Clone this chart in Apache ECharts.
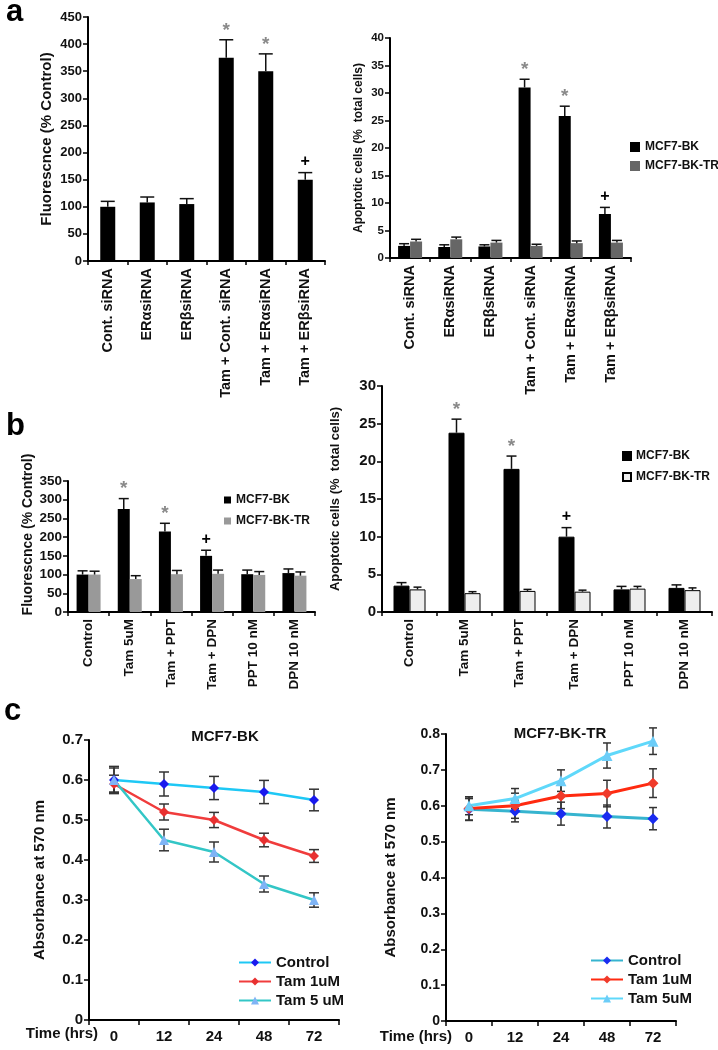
<!DOCTYPE html>
<html>
<head>
<meta charset="UTF-8">
<title>ER siRNA / Tam figure</title>
<style>
  body { margin: 0; background: #fff; }
  .panel { position: absolute; left: 0; top: 0; width: 718px; height: 1050px; }
</style>
</head>
<body>
<div id="a1" class="panel"></div>
<div id="a2" class="panel"></div>
<div id="b1" class="panel"></div>
<div id="b2" class="panel"></div>
<div id="c1" class="panel"></div>
<div id="c2" class="panel"></div>
<script src="https://cdn.jsdelivr.net/npm/echarts@6/dist/echarts.min.js"></script>
<script>
// ---- data ----
var catsA = ['Cont. siRNA', 'ERαsiRNA', 'ERβsiRNA', 'Tam + Cont. siRNA', 'Tam + ERαsiRNA', 'Tam + ERβsiRNA'];
var fluorA = [100, 108, 105, 375, 350, 150];
var fluorATop = [110, 118, 115, 408, 382, 163];   // top of error bar
var sigA = ['', '', '', '*', '*', '+'];

var apopA_BK = [2.2, 2.0, 2.1, 31, 25.8, 8];
var apopA_BKTop = [2.6, 2.4, 2.4, 32.5, 27.6, 9.2];
var apopA_TR = [3.0, 3.4, 2.8, 2.2, 2.7, 2.8];
var apopA_TRTop = [3.4, 3.8, 3.2, 2.5, 3.1, 3.2];

var catsB = ['Control', 'Tam 5uM', 'Tam + PPT', 'Tam + DPN', 'PPT 10 nM', 'DPN 10 nM'];
var sigB = ['', '*', '*', '+', '', ''];
var fluorB_BK = [100, 275, 215, 150, 101, 104];
var fluorB_BKTop = [110, 303, 237, 165, 112, 115];
var fluorB_TR = [100, 88, 101, 102, 99, 97];
var fluorB_TRTop = [109, 97, 111, 112, 108, 107];

var apopB_BK = [3.5, 23.8, 19, 10, 3.0, 3.2];
var apopB_BKTop = [3.9, 25.6, 20.7, 11.2, 3.4, 3.6];
var apopB_TR = [3.0, 2.5, 2.8, 2.7, 3.1, 2.9];
var apopB_TRTop = [3.3, 2.7, 3.0, 2.9, 3.4, 3.2];

var hours = ['0', '12', '24', '48', '72'];
// MCF7-BK
var bkControl = [0.60, 0.59, 0.58, 0.57, 0.55];
var bkControlErr = [0.034, 0.03, 0.029, 0.029, 0.027];
var bkTam1 = [0.59, 0.52, 0.50, 0.45, 0.41];
var bkTam1Err = [0.022, 0.02, 0.019, 0.017, 0.016];
var bkTam5 = [0.60, 0.45, 0.42, 0.34, 0.30];
var bkTam5Err = [0.03, 0.027, 0.025, 0.02, 0.018];
// MCF7-BK-TR
var trControl = [0.59, 0.585, 0.578, 0.57, 0.564];
var trControlErr = [0.03, 0.03, 0.032, 0.032, 0.031];
var trTam1 = [0.592, 0.60, 0.627, 0.634, 0.663];
var trTam1Err = [0.033, 0.035, 0.035, 0.037, 0.04];
var trTam5 = [0.60, 0.62, 0.67, 0.74, 0.78];
var trTam5Err = [0.025, 0.028, 0.03, 0.035, 0.037];

var FONT = '"Liberation Sans", Arial, Helvetica, sans-serif';

function catAxis(cats, fs, rotate) {
  return {
    type: 'category', data: cats,
    axisLine: { lineStyle: { color: '#000', width: 2 } },
    axisTick: { show: true, length: 4, lineStyle: { color: '#000', width: 1.5 } },
    axisLabel: { rotate: rotate, interval: 0, margin: 7, color: '#111', fontSize: fs, fontWeight: 'bold', fontFamily: FONT }
  };
}

// shift moves the rotated axis title up along the axis (px)
function valAxis(max, interval, fs, name, nameFs, gap, dec, shift) {
  return {
    type: 'value', min: 0, max: max, interval: interval,
    name: name, nameLocation: 'middle', nameGap: gap,
    nameTextStyle: { color: '#111', fontSize: nameFs, fontWeight: 'bold', fontFamily: FONT,
      padding: shift ? [0, 0, 0, shift * 2] : 0 },
    splitLine: { show: false },
    axisLine: { show: true, lineStyle: { color: '#000', width: 2 } },
    axisTick: { show: true, length: 5, lineStyle: { color: '#000', width: 1.5 } },
    axisLabel: {
      color: '#111', fontSize: fs, fontWeight: 'bold', fontFamily: FONT, margin: 6,
      formatter: function (v) { return dec ? (v === 0 ? '0' : v.toFixed(dec)) : String(v); }
    }
  };
}

// upper error whisker on a bar, plus significance mark above it
function barErr(vals, tops, offset, cap, marks, markSize) {
  return {
    type: 'custom', z: 5,
    data: vals.map(function (v, i) { return [i, v, tops[i]]; }),
    renderItem: function (params, api) {
      var i = api.value(0);
      var p0 = api.coord([i, api.value(1)]);
      var p1 = api.coord([i, api.value(2)]);
      var x = p0[0] + offset;
      var kids = [
        { type: 'line', shape: { x1: x, y1: p0[1], x2: x, y2: p1[1] }, style: { stroke: '#111', lineWidth: 1.5 } },
        { type: 'line', shape: { x1: x - cap, y1: p1[1], x2: x + cap, y2: p1[1] }, style: { stroke: '#111', lineWidth: 1.5 } }
      ];
      var m = marks ? marks[params.dataIndex] : '';
      if (m) {
        kids.push({
          type: 'text',
          style: {
            text: m, x: x, y: p1[1] - (m === '*' ? 0 : 3), align: 'center', verticalAlign: 'bottom',
            fill: m === '*' ? '#8a8a8a' : '#000',
            font: 'bold ' + (m === '*' ? markSize + 3 : markSize) + 'px ' + FONT
          }
        });
      }
      return { type: 'group', children: kids };
    }
  };
}

// full +/- error bars for the time courses
function lineErr(vals, errs, cap) {
  return {
    type: 'custom', z: 1,
    data: vals.map(function (v, i) { return [i, v - errs[i], v + errs[i]]; }),
    renderItem: function (params, api) {
      var i = api.value(0);
      var lo = api.coord([i, api.value(1)]);
      var hi = api.coord([i, api.value(2)]);
      var st = { stroke: '#333', lineWidth: 1.5 };
      return {
        type: 'group', children: [
          { type: 'line', shape: { x1: lo[0], y1: lo[1], x2: hi[0], y2: hi[1] }, style: st },
          { type: 'line', shape: { x1: lo[0] - cap, y1: lo[1], x2: lo[0] + cap, y2: lo[1] }, style: st },
          { type: 'line', shape: { x1: hi[0] - cap, y1: hi[1], x2: hi[0] + cap, y2: hi[1] }, style: st }
        ]
      };
    }
  };
}

function letter(t, x, y) {
  return { type: 'text', left: x, top: y, style: { text: t, font: 'bold 31px ' + FONT, fill: '#000' } };
}

function timeLabel(xRight, yMid) {
  return { type: 'text', x: xRight, y: yMid,
    style: { text: 'Time (hrs)', align: 'right', verticalAlign: 'middle', font: 'bold 15px ' + FONT, fill: '#111' } };
}

function barLegend(left, top, size, gap) {
  return {
    orient: 'vertical', left: left, top: top, padding: 0, itemWidth: size, itemHeight: size, itemGap: gap,
    icon: 'rect',
    textStyle: { fontSize: 12, fontWeight: 'bold', fontFamily: FONT, color: '#111' },
    data: ['MCF7-BK', 'MCF7-BK-TR']
  };
}

// ---- a, left ----
echarts.init(document.getElementById('a1')).setOption({
  animation: false,
  graphic: [letter('a', 6, -3)],
  grid: { left: 88, top: 17, width: 237, height: 244 },
  xAxis: catAxis(catsA, 14.5, 90),
  yAxis: valAxis(450, 50, 13, 'Fluorescnce (% Control)', 15, 34),
  series: [
    { type: 'bar', data: fluorA, barWidth: 15, itemStyle: { color: '#000' } },
    barErr(fluorA, fluorATop, 0, 7, sigA, 16)
  ]
});

// ---- a, right ----
echarts.init(document.getElementById('a2')).setOption({
  animation: false,
  grid: { left: 390, top: 38, width: 241, height: 220 },
  legend: barLegend(630, 141, 10, 7),
  xAxis: catAxis(catsA, 14.5, 90),
  yAxis: valAxis(40, 5, 11.5, 'Apoptotic cells (%  total cells)', 12, 25),
  series: [
    { name: 'MCF7-BK', type: 'bar', data: apopA_BK, barWidth: 12, barGap: '0%', itemStyle: { color: '#000' } },
    { name: 'MCF7-BK-TR', type: 'bar', data: apopA_TR, barWidth: 12, barGap: '0%', itemStyle: { color: '#666' } },
    barErr(apopA_BK, apopA_BKTop, -6, 5, sigA, 16),
    barErr(apopA_TR, apopA_TRTop, 6, 5, null, 16)
  ]
});

// ---- b, left ----
echarts.init(document.getElementById('b1')).setOption({
  animation: false,
  graphic: [letter('b', 6, 411)],
  grid: { left: 68, top: 481, width: 247, height: 131 },
  legend: barLegend(224, 494, 7, 9),
  xAxis: catAxis(catsB, 13.5, 90),
  yAxis: valAxis(350, 50, 13.5, 'Fluorescnce (% Control)', 14, 32, 0, 12),
  series: [
    { name: 'MCF7-BK', type: 'bar', data: fluorB_BK, barWidth: 12, barGap: '0%', itemStyle: { color: '#000' } },
    { name: 'MCF7-BK-TR', type: 'bar', data: fluorB_TR, barWidth: 12, barGap: '0%', itemStyle: { color: '#999' } },
    barErr(fluorB_BK, fluorB_BKTop, -6, 5, sigB, 16),
    barErr(fluorB_TR, fluorB_TRTop, 6, 5, null, 16)
  ]
});

// ---- b, right ----
echarts.init(document.getElementById('b2')).setOption({
  animation: false,
  grid: { left: 382, top: 386, width: 330, height: 226 },
  legend: barLegend(622, 450, 8, 9),
  xAxis: catAxis(catsB, 13.5, 90),
  yAxis: valAxis(30, 5, 15, 'Apoptotic cells (%  total cells)', 13, 40),
  series: [
    { name: 'MCF7-BK', type: 'bar', data: apopB_BK, barWidth: 16, barGap: '0%',
      itemStyle: { color: '#000', borderColor: '#000', borderWidth: 1 } },
    { name: 'MCF7-BK-TR', type: 'bar', data: apopB_TR, barWidth: 16, barGap: '0%',
      itemStyle: { color: '#eeeeee', borderColor: '#000', borderWidth: 1 } },
    barErr(apopB_BK, apopB_BKTop, -8, 5, sigB, 16),
    barErr(apopB_TR, apopB_TRTop, 8, 4, null, 16)
  ]
});

function timeAxis(fs) {
  return {
    type: 'category', data: hours, boundaryGap: true,
    axisLine: { lineStyle: { color: '#000', width: 2 } },
    axisTick: { show: true, length: 5, interval: 0, lineStyle: { color: '#000', width: 1.5 } },
    axisLabel: { color: '#111', fontSize: fs, fontWeight: 'bold', fontFamily: FONT, margin: 9 }
  };
}

function lineLegend(left, top, fs, names) {
  return {
    orient: 'vertical', left: left, top: top, padding: 0, itemWidth: 32, itemHeight: 10, itemGap: 4,
    textStyle: { fontSize: fs, fontWeight: 'bold', fontFamily: FONT, color: '#111' },
    data: names
  };
}

// ---- c, left ----
echarts.init(document.getElementById('c1')).setOption({
  animation: false,
  graphic: [letter('c', 4, 696), timeLabel(98, 1034)],
  title: { text: 'MCF7-BK', left: 220, top: 724, textAlign: 'center',
    textStyle: { fontSize: 15, fontWeight: 'bold', fontFamily: FONT, color: '#111' } },
  grid: { left: 89, top: 740, width: 250, height: 280 },
  legend: lineLegend(238, 955, 15, ['Control', 'Tam 1uM', 'Tam 5 uM']),
  xAxis: timeAxis(15),
  yAxis: valAxis(0.7, 0.1, 15, 'Absorbance at 570 nm', 15, 42, 1),
  series: [
    lineErr(bkControl, bkControlErr, 5),
    lineErr(bkTam1, bkTam1Err, 5),
    lineErr(bkTam5, bkTam5Err, 5),
    { name: 'Control', type: 'line', z: 3, data: bkControl, symbol: 'diamond', symbolSize: 10,
      lineStyle: { color: '#1ec8f5', width: 2.5 }, itemStyle: { color: '#1a1aee' } },
    { name: 'Tam 1uM', type: 'line', z: 3, data: bkTam1, symbol: 'diamond', symbolSize: 10,
      lineStyle: { color: '#f03c3c', width: 2.5 }, itemStyle: { color: '#e83030' } },
    { name: 'Tam 5 uM', type: 'line', z: 3, data: bkTam5, symbol: 'triangle', symbolSize: 10,
      lineStyle: { color: '#33c6c6', width: 2.5 }, itemStyle: { color: '#7fb4f5' } }
  ]
});

// ---- c, right ----
echarts.init(document.getElementById('c2')).setOption({
  animation: false,
  graphic: [timeLabel(452, 1037)],
  title: { text: 'MCF7-BK-TR', left: 555, top: 721, textAlign: 'center',
    textStyle: { fontSize: 15, fontWeight: 'bold', fontFamily: FONT, color: '#111' } },
  grid: { left: 446, top: 734, width: 230, height: 287 },
  legend: lineLegend(590, 953, 15, ['Control', 'Tam 1uM', 'Tam 5uM']),
  xAxis: timeAxis(15),
  yAxis: valAxis(0.8, 0.1, 14, 'Absorbance at 570 nm', 15, 48, 1),
  series: [
    lineErr(trControl, trControlErr, 4),
    lineErr(trTam1, trTam1Err, 4),
    lineErr(trTam5, trTam5Err, 4),
    { name: 'Control', type: 'line', z: 3, data: trControl, symbol: 'diamond', symbolSize: 11,
      lineStyle: { color: '#36b4cf', width: 3 }, itemStyle: { color: '#1a2cf0' } },
    { name: 'Tam 1uM', type: 'line', z: 3, data: trTam1, symbol: 'diamond', symbolSize: 11,
      lineStyle: { color: '#ff2a10', width: 3 }, itemStyle: { color: '#f03a2a' } },
    { name: 'Tam 5uM', type: 'line', z: 3, data: trTam5, symbol: 'triangle', symbolSize: 11,
      lineStyle: { color: '#5fd8fa', width: 3 }, itemStyle: { color: '#6ccdf8' } }
  ]
});
</script>
</body>
</html>
